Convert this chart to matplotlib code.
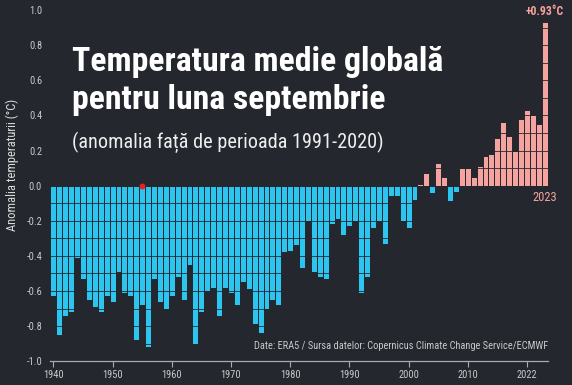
#!/usr/bin/env python3
# %%
import numpy as np
from matplotlib import pyplot as plt
from matplotlib import font_manager

# %%  data (September anomaly vs 1991-2020)
years = list(range(1940, 2024))
anomaly = [
    -0.63, -0.85, -0.74, -0.72, -0.41, -0.53, -0.65, -0.69, -0.72, -0.63,  # 1940s
    -0.66, -0.49, -0.61, -0.63, -0.88, -0.68, -0.92, -0.53, -0.66, -0.70,  # 1950s
    -0.63, -0.52, -0.65, -0.45, -0.90, -0.72, -0.60, -0.58, -0.74, -0.58,  # 1960s
    -0.61, -0.68, -0.55, -0.59, -0.79, -0.84, -0.70, -0.65, -0.68, -0.38,  # 1970s
    -0.37, -0.34, -0.47, -0.20, -0.49, -0.52, -0.53, -0.22, -0.19, -0.28,  # 1980s
    -0.23, -0.20, -0.61, -0.52, -0.24, -0.20, -0.33, -0.06, -0.06, -0.20,  # 1990s
    -0.24, -0.08, 0.01, 0.07, -0.04, 0.13, 0.05, -0.09, -0.035, 0.10,     # 2000s
    0.10, 0.05, 0.11, 0.17, 0.18, 0.27, 0.36, 0.28, 0.20, 0.38,           # 2010s
    0.43, 0.40, 0.35, 0.93,                                               # 2020s
]
tick_pos = [1940, 1950, 1960, 1970, 1980, 1990, 2000, 2010, 2020]
tick_lab = ['1940', '1950', '1960', '1970', '1980', '1990', '2000', '2010', '2022']
y_ticks = [1.0, 0.8, 0.6, 0.4, 0.2, 0.0, -0.2, -0.4, -0.6, -0.8, -1.0]

title = 'Temperatura medie globală\npentru luna septembrie'
subtitle = '(anomalia față de perioada 1991-2020)'
source = 'Date: ERA5 / Sursa datelor: Copernicus Climate Change Service/ECMWF'

# %%  fonts: a condensed face like the original
names = {f.name for f in font_manager.fontManager.ttflist}
cond = dict(family=['DejaVu Sans'], stretch='condensed')
for n in ['Roboto Condensed', 'Barlow Condensed', 'Asap Condensed', 'Archivo Narrow']:
    if n in names:
        cond = dict(family=[n, 'DejaVu Sans'])
        break

bg = '#24272e'
blue = '#2cc5f0'
pink = '#f5a39f'
grey = '#c9c9c9'

# %%  plot
fig = plt.figure(figsize=(5.72, 3.85), dpi=100, facecolor=bg)
ax = fig.add_axes([50.4 / 572, 23.7 / 385, 497.3 / 572, 351.3 / 385])
ax.set_facecolor(bg)

vals = np.array(anomaly)
colors = [pink if v > 0 else blue for v in vals]
ax.bar(years, vals, width=1.0, color=colors, edgecolor=bg, linewidth=0.7, zorder=1)

# dark horizontal lines across the bars every 0.1
ax.hlines(np.arange(-9, 10) / 10, 1939.5, 2023.5, color=bg, lw=0.7, alpha=0.85, zorder=2)

ax.plot([1955], [0], 'o', color='#e8231f', ms=3.2, zorder=4)

ax.set_xlim(1939.5, 2023.5)
ax.set_ylim(-1.0, 1.0)
ax.set_yticks(y_ticks)
ax.set_yticklabels(['%.1f' % v for v in y_ticks], color=grey, fontsize=7.5, **cond)
ax.set_xticks(tick_pos)
ax.set_xticklabels(tick_lab, color=grey, fontsize=7.5, **cond)
ax.tick_params(axis='y', length=0, pad=6)
ax.tick_params(axis='x', length=4, width=0.8, color='#aaaaaa', pad=2)
for s in ['top', 'right', 'left']:
    ax.spines[s].set_visible(False)
ax.spines['bottom'].set_color('#aaaaaa')
ax.spines['bottom'].set_linewidth(0.9)

fig.text(12 / 572, 1 - 165 / 385, 'Anomalia temperaturii (°C)', rotation=90,
         ha='center', va='center', color='#dddddd', fontsize=9, **cond)

ax.text(2023, 0.955, '+0.93°C', ha='center', va='bottom', color=pink,
        fontsize=8.5, fontweight='bold', **cond)
ax.text(2023, -0.03, '2023', ha='center', va='top', color=pink, fontsize=9, **cond)

fig.text(72 / 572, 1 - 46 / 385, title, ha='left', va='top', color='white',
         fontsize=24.3, fontweight='bold', linespacing=1.25, **cond)
fig.text(72 / 572, 1 - 142 / 385, subtitle, ha='left', va='center', color='#eeeeee',
         fontsize=14.6, **cond)
ax.text(2023.5, -0.94, source, ha='right', va='bottom', color=grey, fontsize=7.5, **cond)

# %%
plt.savefig('out.png', dpi=100, facecolor=bg)
